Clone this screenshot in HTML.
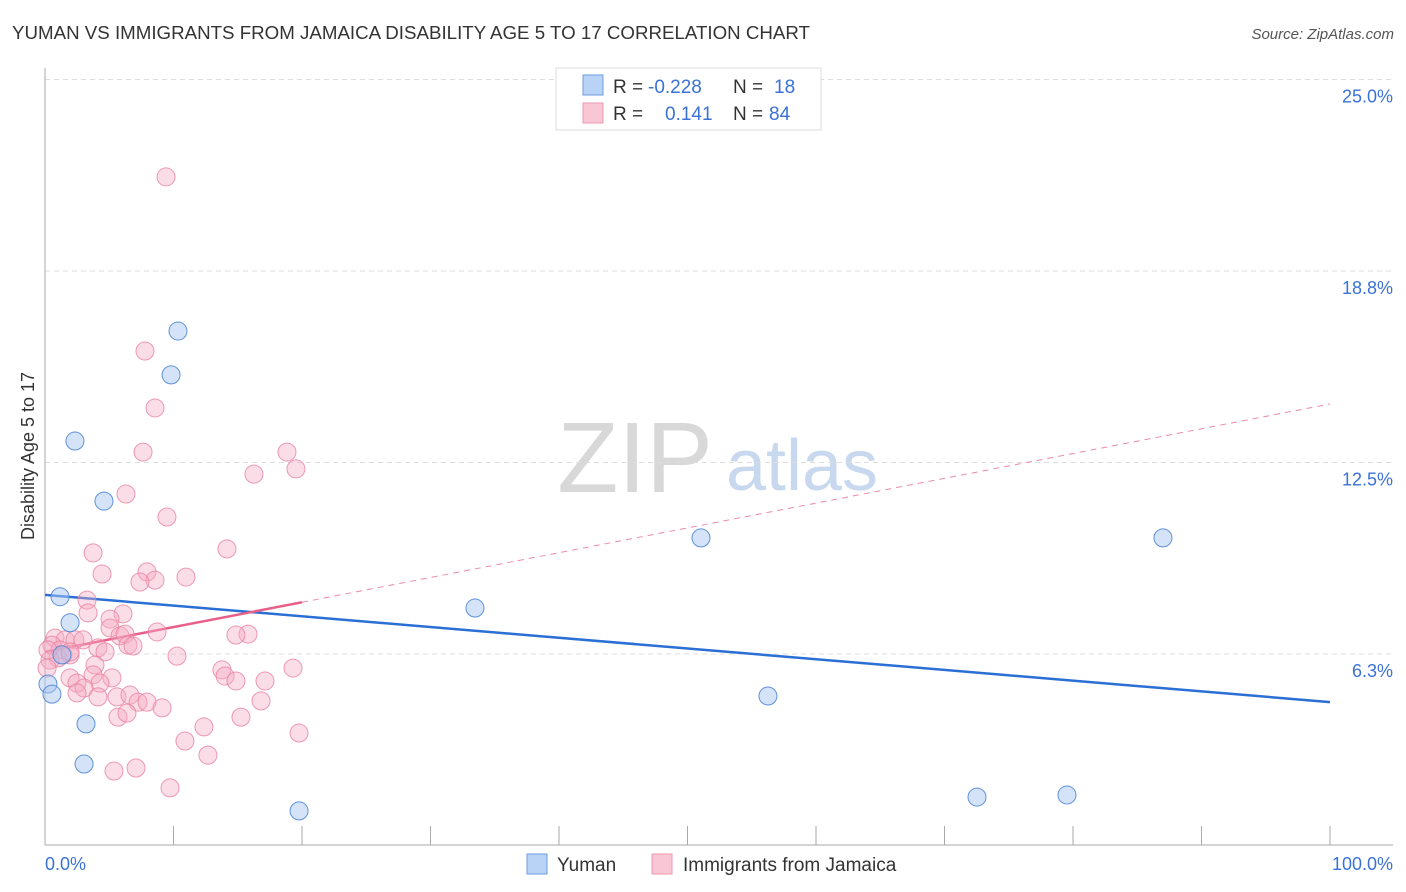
<!DOCTYPE html>
<html><head><meta charset="utf-8">
<style>
body{margin:0;background:#fff;font-family:"Liberation Sans",sans-serif;}
#wrap{position:relative;width:1406px;height:892px;overflow:hidden;}
svg text{font-family:"Liberation Sans",sans-serif;}
</style></head>
<body>
<div id="wrap">
<svg id="chart" width="1406" height="892">
<text x="12" y="39" font-size="18" fill="#333" textLength="798" lengthAdjust="spacingAndGlyphs">YUMAN VS IMMIGRANTS FROM JAMAICA DISABILITY AGE 5 TO 17 CORRELATION CHART</text>
<text x="1394" y="39" font-size="15" fill="#555" text-anchor="end" font-style="italic">Source: ZipAtlas.com</text>
<text x="34" y="456" font-size="18" fill="#333" text-anchor="middle" transform="rotate(-90 34 456)">Disability Age 5 to 17</text>
<g>
<text x="635" y="492" font-size="100" fill="#d8d8d8" font-family="Liberation Serif" text-anchor="middle">ZIP</text>
<text x="802" y="490" font-size="72" fill="#c8d8ee" text-anchor="middle">atlas</text>
</g>
<g id="grid"></g>
<g id="axes"></g>
<g id="trend"></g>
<g id="points"></g>
<g>
<rect x="556" y="68" width="265" height="62" fill="#fff" stroke="#ddd"/>
<rect x="583" y="75" width="20" height="20" fill="#b8d3f5" stroke="#6d9be0"/>
<rect x="583" y="103" width="20" height="20" fill="#f9c6d5" stroke="#ec9ab2"/>
<text x="613" y="93" font-size="19" fill="#333">R = </text>
<text x="648" y="93" font-size="19" fill="#3a72d8">-0.228</text>
<text x="733" y="93" font-size="19" fill="#333">N = </text>
<text x="774" y="93" font-size="19" fill="#3a72d8">18</text>
<text x="613" y="120" font-size="19" fill="#333">R = </text>
<text x="665" y="120" font-size="19" fill="#3a72d8">0.141</text>
<text x="733" y="120" font-size="19" fill="#333">N = </text>
<text x="769" y="120" font-size="19" fill="#3a72d8">84</text>
</g>
<g>
<rect x="527" y="854" width="20" height="20" fill="#b8d3f5" stroke="#6d9be0"/>
<text x="557" y="871" font-size="19" fill="#333">Yuman</text>
<rect x="652" y="854" width="20" height="20" fill="#f9c6d5" stroke="#ec9ab2"/>
<text x="683" y="871" font-size="19" fill="#333">Immigrants from Jamaica</text>
</g>
</svg>
</div>
<script>
const yTicks=[25,18.75,12.5,6.25];
const yTickLabels=["25.0%","18.8%","12.5%","6.3%"];
const xEndLabels=["0.0%","100.0%"];
const yumanX=[10.35,9.81,2.33,4.59,1.17,1.95,0.23,0.54,3.19,3.04,19.77,33.46,51.05,56.26,72.53,79.53,87.0,1.32];
const yumanY=[16.79,15.36,13.2,11.24,8.12,7.27,5.27,4.94,3.97,2.66,1.13,7.75,10.04,4.88,1.58,1.65,10.04,6.22];
const jamX=[9.42,7.78,8.56,7.63,18.83,16.26,19.53,6.3,9.49,3.74,14.16,4.44,7.94,8.56,7.39,10.97,3.27,3.35,6.07,5.06,5.06,5.84,6.23,8.72,15.8,14.86,0.78,1.56,2.33,2.96,0.54,1.17,1.4,1.95,1.01,0.39,4.12,4.67,6.46,6.85,3.89,3.74,5.21,4.28,1.95,2.49,3.04,2.49,4.12,5.6,6.61,7.24,7.94,9.11,5.68,6.38,13.77,14.01,14.86,17.12,19.3,10.27,16.81,15.25,12.37,10.89,19.77,12.68,5.37,7.08,9.73,1.95,0.23,0.16];
const jamY=[21.82,16.14,14.28,12.84,12.84,12.12,12.29,11.47,10.72,9.55,9.68,8.86,8.93,8.66,8.6,8.76,8.01,7.59,7.56,7.39,7.1,6.84,6.9,6.97,6.9,6.87,6.77,6.71,6.71,6.71,6.54,6.38,6.22,6.22,6.12,6.05,6.45,6.32,6.54,6.51,5.89,5.57,5.47,5.3,5.47,5.3,5.14,4.98,4.85,4.85,4.91,4.68,4.68,4.49,4.19,4.32,5.73,5.53,5.37,5.37,5.79,6.18,4.72,4.19,3.87,3.41,3.67,2.95,2.43,2.53,1.88,6.32,6.38,5.79];
const yumanTrend=[8.18,4.68];
const jamTrend=[6.32,14.41];
const jamSolidEnd=20;

const NS="http://www.w3.org/2000/svg";
const X0=45,X1=1330,YB=845.5,PXPER=30.64;
function sx(v){return X0+(X1-X0)*v/100;}
function sy(v){return YB-v*PXPER;}
function mk(tag,attrs,parent){const e=document.createElementNS(NS,tag);for(const k in attrs)e.setAttribute(k,attrs[k]);parent.appendChild(e);return e;}

const grid=document.getElementById('grid');
yTicks.forEach((t,i)=>{
  const l=mk('line',{x1:X0,x2:1393,y1:sy(t),y2:sy(t),stroke:'#ddd','stroke-dasharray':'5,4'},grid);
  
  
  const tx=mk('text',{x:1393,y:sy(t)+23,'font-size':18,fill:'#3a72d8','text-anchor':'end'},grid);
  tx.textContent=yTickLabels[i];
  
  
});
const axes=document.getElementById('axes');
const ya=mk('line',{x1:X0,x2:X0,y1:68,y2:845,stroke:'#aaa'},axes);


const xa=mk('line',{x1:X0,x2:1393,y1:845,y2:845,stroke:'#aaa'},axes);


for(let k=1;k<=10;k++){
  const t=mk('line',{x1:sx(k*10),x2:sx(k*10),y1:826,y2:845,stroke:'#aaa'},axes);
  
  
}
const xl0=mk('text',{x:45,y:870,'font-size':18,fill:'#3a72d8'},axes);
xl0.textContent=xEndLabels[0];


const xl1=mk('text',{x:1393,y:870,'font-size':18,fill:'#3a72d8','text-anchor':'end'},axes);
xl1.textContent=xEndLabels[1];



const pts=document.getElementById('points');
jamX.forEach((x,i)=>{
  const c=mk('circle',{cx:sx(x),cy:sy(jamY[i]),r:9,fill:'rgba(246,170,195,0.4)',stroke:'rgba(232,130,160,0.8)','stroke-width':1},pts);
  
  
});
yumanX.forEach((x,i)=>{
  const c=mk('circle',{cx:sx(x),cy:sy(yumanY[i]),r:9,fill:'rgba(170,200,240,0.5)',stroke:'rgba(80,135,215,0.9)','stroke-width':1},pts);
  
  
});
const tr=document.getElementById('trend');
function lerp(a,b,t){return a+(b-a)*t;}
const jd=mk('line',{x1:sx(jamSolidEnd),y1:sy(lerp(jamTrend[0],jamTrend[1],jamSolidEnd/100)),x2:sx(100),y2:sy(jamTrend[1]),stroke:'#ec8aa8','stroke-width':1,'stroke-dasharray':'6,5'},tr);


const yl=mk('line',{x1:sx(0),y1:sy(yumanTrend[0]),x2:sx(100),y2:sy(yumanTrend[1]),stroke:'#2a6fd6','stroke-width':2.5},tr);


const js=mk('line',{x1:sx(0),y1:sy(jamTrend[0]),x2:sx(jamSolidEnd),y2:sy(lerp(jamTrend[0],jamTrend[1],jamSolidEnd/100)),stroke:'#e8608a','stroke-width':2.5},tr);


</script>
</body></html>
